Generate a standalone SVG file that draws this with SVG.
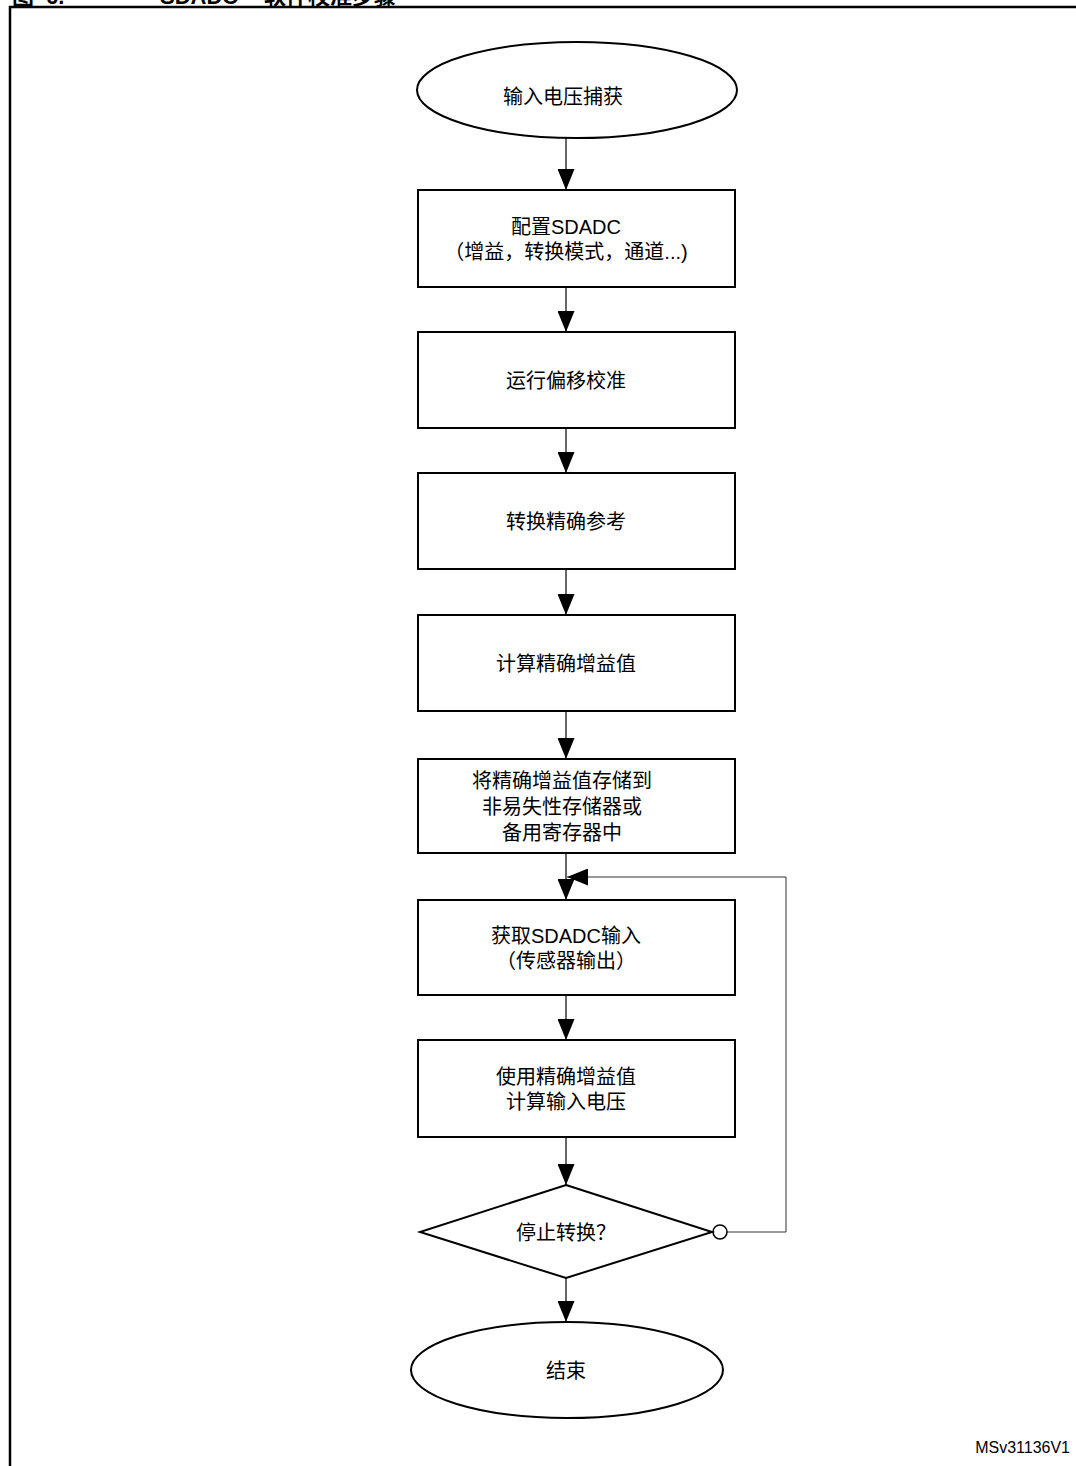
<svg xmlns="http://www.w3.org/2000/svg" width="1076" height="1466" viewBox="0 0 1076 1466">
<style>
  .t { font-family: "Liberation Sans", "Noto Sans CJK SC", sans-serif; font-size: 20px; fill: #000; text-anchor: middle; }
  .title { font-family: "Liberation Sans", "Noto Sans CJK SC", sans-serif; font-size: 22px; font-weight: bold; fill: #000; }
  .shape { fill: #fff; stroke: #000; stroke-width: 2; }
  .conn { fill: none; stroke: #000; stroke-width: 1.2; }
  .loop { fill: none; stroke: #333; stroke-width: 1; }
</style>
<defs>
  <marker id="ah" markerUnits="userSpaceOnUse" markerWidth="21" markerHeight="17" refX="21" refY="8.5" orient="auto">
    <path d="M0,0 L21,8.5 L0,17 z" fill="#000"/>
  </marker>
</defs>
<rect x="0" y="0" width="1076" height="1466" fill="#fff"/>
<g id="title">
  <text class="title" x="12" y="3.5">图</text>
  <text class="title" x="46" y="3.5">6.</text>
  <text class="title" x="160" y="3.5" font-size="24">SDADC</text>
  <text class="title" x="264" y="3.5">软件校准步骤</text>
</g>
<g id="frame">
  <path d="M10,1466 V7 H1076" fill="none" stroke="#000" stroke-width="2.5"/>
</g>
<g id="connectors">
  <line class="conn" x1="566" y1="138" x2="566" y2="190" marker-end="url(#ah)"/>
  <line class="conn" x1="566" y1="287" x2="566" y2="332" marker-end="url(#ah)"/>
  <line class="conn" x1="566" y1="428" x2="566" y2="473" marker-end="url(#ah)"/>
  <line class="conn" x1="566" y1="569" x2="566" y2="615" marker-end="url(#ah)"/>
  <line class="conn" x1="566" y1="711" x2="566" y2="759" marker-end="url(#ah)"/>
  <line class="conn" x1="566" y1="853" x2="566" y2="900" marker-end="url(#ah)"/>
  <line class="conn" x1="566" y1="995" x2="566" y2="1040" marker-end="url(#ah)"/>
  <line class="conn" x1="566" y1="1137" x2="566" y2="1185" marker-end="url(#ah)"/>
  <line class="conn" x1="566" y1="1278" x2="566" y2="1322" marker-end="url(#ah)"/>
  <path class="loop" d="M727,1232 H786 V877 H567" marker-end="url(#ah)"/>
  <circle cx="720" cy="1232" r="7" fill="#fff" stroke="#000" stroke-width="1.5"/>
</g>
<g id="n-start">
  <ellipse class="shape" cx="577" cy="90" rx="160" ry="48"/>
  <text class="t" x="563" y="104">输入电压捕获</text>
</g>
<g id="n-config">
  <rect class="shape" x="418" y="190" width="317" height="97"/>
  <text class="t" x="566" y="233.5">配置SDADC</text>
  <text class="t" x="566" y="258.5">（增益，转换模式，通道...)</text>
</g>
<g id="n-offset">
  <rect class="shape" x="418" y="332" width="317" height="96"/>
  <text class="t" x="566" y="387.5">运行偏移校准</text>
</g>
<g id="n-ref">
  <rect class="shape" x="418" y="473" width="317" height="96"/>
  <text class="t" x="566" y="528.5">转换精确参考</text>
</g>
<g id="n-gain">
  <rect class="shape" x="418" y="615" width="317" height="96"/>
  <text class="t" x="566" y="670.5">计算精确增益值</text>
</g>
<g id="n-store">
  <rect class="shape" x="418" y="759" width="317" height="94"/>
  <text class="t" x="562" y="787.5">将精确增益值存储到</text>
  <text class="t" x="562" y="813.5">非易失性存储器或</text>
  <text class="t" x="562" y="839.5">备用寄存器中</text>
</g>
<g id="n-acquire">
  <rect class="shape" x="418" y="900" width="317" height="95"/>
  <text class="t" x="566" y="942.5">获取SDADC输入</text>
  <text class="t" x="566" y="967.5">（传感器输出）</text>
</g>
<g id="n-compute">
  <rect class="shape" x="418" y="1040" width="317" height="97"/>
  <text class="t" x="566" y="1083.5">使用精确增益值</text>
  <text class="t" x="566" y="1108.5">计算输入电压</text>
</g>
<g id="n-stop">
  <polygon class="shape" points="566,1185 712,1232 566,1278 420,1232"/>
  <text class="t" x="566" y="1239.5">停止转换？</text>
</g>
<g id="n-end">
  <ellipse class="shape" cx="567" cy="1370" rx="156" ry="48"/>
  <text class="t" x="566" y="1377.5">结束</text>
</g>
<g id="label">
  <text x="1070" y="1453" font-family="Liberation Sans, Arial, sans-serif" font-size="16" text-anchor="end" fill="#000">MSv31136V1</text>
</g>
</svg>
